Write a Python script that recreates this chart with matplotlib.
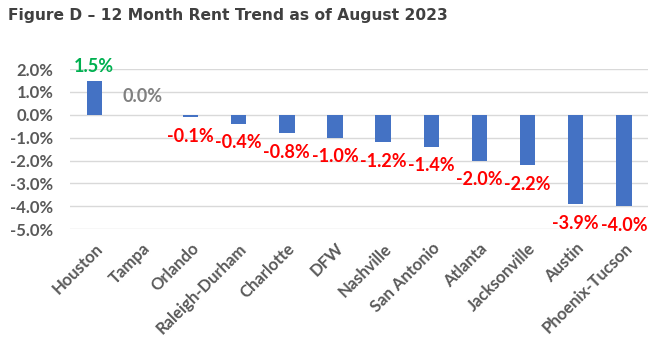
import numpy as np
import matplotlib
matplotlib.use("Agg")
import matplotlib.pyplot as plt
from matplotlib.ticker import FuncFormatter

# 12 month rent change, percent
markets = ["Houston", "Tampa", "Orlando", "Raleigh-Durham", "Charlotte", "DFW",
           "Nashville", "San Antonio", "Atlanta", "Jacksonville", "Austin", "Phoenix-Tucson"]
rent_change = [1.5, 0.0, -0.1, -0.4, -0.8, -1.0, -1.2, -1.4, -2.0, -2.2, -3.9, -4.0]
y_ticks = [2.0, 1.0, 0.0, -1.0, -2.0, -3.0, -4.0, -5.0]

bar_color = "#4472C4"
tick_color = "#595959"

fig = plt.figure(figsize=(6.68, 3.56), dpi=100)
ax = fig.add_axes([0.105, 0.356, 0.865, 0.450])

x = np.arange(len(markets))
ax.bar(x, rent_change, width=0.32, color=bar_color, zorder=3)

ax.set_xlim(-0.5, len(markets) - 0.5)
ax.set_ylim(-5.0, 2.0)
ax.set_yticks(y_ticks)
ax.yaxis.set_major_formatter(FuncFormatter(lambda v, p: "%.1f%%" % v))
ax.grid(axis="y", color="#D9D9D9", linewidth=1.0, zorder=0)
for s in ax.spines.values():
    s.set_visible(False)
ax.tick_params(axis="both", length=0, colors=tick_color)
ax.tick_params(axis="y", pad=12)
ax.tick_params(axis="x", pad=8)
ax.set_xticks(x)
ax.set_xticklabels(markets, rotation=45, ha="right", rotation_mode="anchor")
for lab in ax.get_xticklabels() + ax.get_yticklabels():
    lab.set_fontfamily("Lato")
    lab.set_fontweight("bold")
    lab.set_fontsize(12)
    lab.set_color(tick_color)

# data labels: green above for gains, grey for flat, red below for losses
for xi, v in zip(x, rent_change):
    if v > 0:
        col, off = "#00B050", 14
    elif v == 0:
        col, off = "#808080", 18
    else:
        col, off = "#FF0000", -19
    ax.annotate("%.1f%%" % v, (xi, v), xytext=(0, off), textcoords="offset pixels",
                ha="center", va="center", fontsize=13, fontweight="bold",
                fontfamily="Lato", color=col, zorder=4)

fig.text(0.012, 0.957, "Figure D \u2013 12 Month Rent Trend as of August 2023",
         fontsize=11.2, fontweight="bold", color="#404040", va="center", ha="left",
         fontfamily="DejaVu Sans")

fig.savefig("out.png", dpi=100)
